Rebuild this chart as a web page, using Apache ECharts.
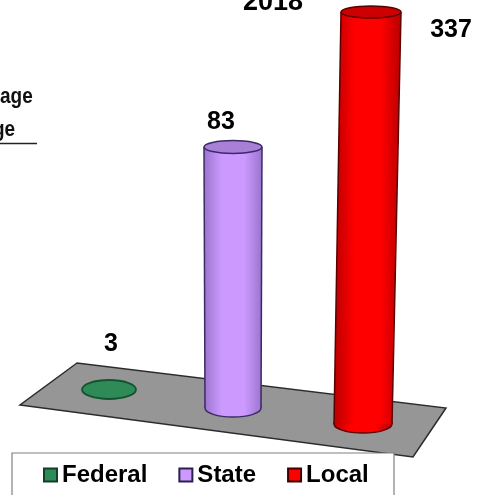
<!DOCTYPE html>
<html><head><meta charset="utf-8">
<style>html,body{margin:0;padding:0;background:#fff;overflow:hidden}#c{width:483px;height:495px}</style>
<script src="https://cdn.jsdelivr.net/npm/echarts@6/dist/echarts.min.js"></script>
</head><body><div id="c"></div>
<script>
const categories = ['Federal', 'State', 'Local'];
const values = [3, 83, 337];
const yearLabel = '2018';

// Presentation only. The source drawing is not to a common scale, so each column has its own hidden axis.
const W = 483, H = 495, FONT = '"Liberation Sans", Arial, sans-serif';
const looks = [
  {base:390.5, px:1, dxBase:0, dxTop:0, rxB:27, ryB:9.5, rxT:27, ryT:9.5, edge:'#14532f', side:['#2e8b57','#2e8b57'], top:'#2e8b57', lx:2, ly:-45},
  {base:408, px:261, dxBase:-3, dxTop:-3, rxB:28, ryB:9, rxT:29, ryT:6.5, edge:'#3c2a66', side:['#9a74cc','#cc99ff'], top:'#a880d8', lx:-12, ly:-25},
  {base:424, px:412, dxBase:0, dxTop:8, rxB:29, ryB:9, rxT:30, ryT:6, edge:'#5a0000', side:['#b80000','#ff0000'], top:'#cc0000', lx:80, ly:18}
];
const legendColors = ['#2e8b57', '#cc99ff', '#ff0000'];
const legendEdges = ['#123f28', '#2a2050', '#400000'];

const yAxes = values.map((v, i) => {
  const k = looks[i].px / v;
  return {type:'value', show:false, min:-(H - looks[i].base) / k, max:looks[i].base / k, scale:false};
});

function renderCol(i) {
  return function (params, api) {
    const L = looks[i], v = api.value(1);
    const b = api.coord([api.value(0), 0]), t = api.coord([api.value(0), v]);
    const bx = b[0] + L.dxBase, by = b[1], tx = t[0] + L.dxTop, ty = t[1];
    const grad = {type:'linear', x:0, y:0, x2:1, y2:0, colorStops:[
      {offset:0, color:L.side[0]}, {offset:.3, color:L.side[1]}, {offset:.7, color:L.side[1]}, {offset:1, color:L.side[0]}]};
    const kids = [];
    if (L.px > 5) {
      kids.push({type:'ellipse', shape:{cx:bx, cy:by, rx:L.rxB, ry:L.ryB}, style:{fill:grad, stroke:L.edge, lineWidth:1.5}});
      kids.push({type:'polygon', shape:{points:[[tx-L.rxT,ty],[tx+L.rxT,ty],[bx+L.rxB,by],[bx-L.rxB,by]]}, style:{fill:grad}});
      kids.push({type:'line', shape:{x1:tx-L.rxT,y1:ty,x2:bx-L.rxB,y2:by}, style:{stroke:L.edge, lineWidth:1.5}});
      kids.push({type:'line', shape:{x1:tx+L.rxT,y1:ty,x2:bx+L.rxB,y2:by}, style:{stroke:L.edge, lineWidth:1.5}});
      kids.push({type:'ellipse', shape:{cx:tx, cy:ty, rx:L.rxT, ry:L.ryT}, style:{fill:L.top, stroke:L.edge, lineWidth:1.5}});
    } else {
      kids.push({type:'ellipse', shape:{cx:tx, cy:ty, rx:L.rxT, ry:L.ryT}, style:{fill:L.top, stroke:L.edge, lineWidth:1.8}});
    }
    kids.push({type:'text', style:{text:String(v), x:tx + L.lx, y:ty + L.ly, fill:'#000', font:'bold 25px ' + FONT, textAlign:'center', textVerticalAlign:'middle'}});
    return {type:'group', children:kids};
  };
}

const chart = echarts.init(document.getElementById('c'), null, {renderer:'canvas', width:W, height:H});
chart.setOption({
  animation:false,
  backgroundColor:'#fff',
  grid:{left:45.5, right:56.5, top:0, bottom:0, containLabel:false},
  xAxis:{type:'category', data:categories, show:false},
  yAxis:yAxes,
  legend:{
    left:38, top:458, itemWidth:13, itemHeight:13, itemGap:31, icon:'rect', selectedMode:false,
    textStyle:{fontFamily:FONT, fontWeight:'bold', fontSize:24, color:'#000', padding:[2,0,0,0]},
    data:categories.map((n, i) => ({name:n, icon:'rect', itemStyle:{color:legendColors[i], borderColor:legendEdges[i], borderWidth:2}}))
  },
  graphic:[
    {type:'polygon', z:0, shape:{points:[[77,363],[20,405],[413,457],[446,408]]}, style:{fill:'#969696', stroke:'#2b2b2b', lineWidth:1.5}},
    {type:'rect', z:1, shape:{x:12,y:453,width:382,height:60}, style:{fill:'#fff', stroke:'#808080', lineWidth:1.2}},
    {type:'text', z:5, x:273, y:3, style:{text:yearLabel, fill:'#000', font:'bold 27px ' + FONT, textAlign:'center', textVerticalAlign:'middle'}},
    {type:'text', z:5, x:0, y:108, scaleY:1.2, style:{text:'age', fill:'#111', font:'bold 19px ' + FONT, textAlign:'left', textVerticalAlign:'bottom'}},
    {type:'text', z:5, x:-7, y:141, scaleY:1.2, style:{text:'ge', fill:'#111', font:'bold 19px ' + FONT, textAlign:'left', textVerticalAlign:'bottom'}},
    {type:'line', z:5, shape:{x1:0,y1:143.5,x2:37,y2:143.5}, style:{stroke:'#222', lineWidth:1.5}}
  ],
  series:categories.map((n, i) => ({
    type:'custom', name:n, yAxisIndex:i, clip:false, z:3,
    itemStyle:{color:legendColors[i], borderColor:legendEdges[i], borderWidth:2},
    encode:{x:0, y:1},
    data:[[i, values[i]]],
    renderItem:renderCol(i)
  }))
});
</script></body></html>
